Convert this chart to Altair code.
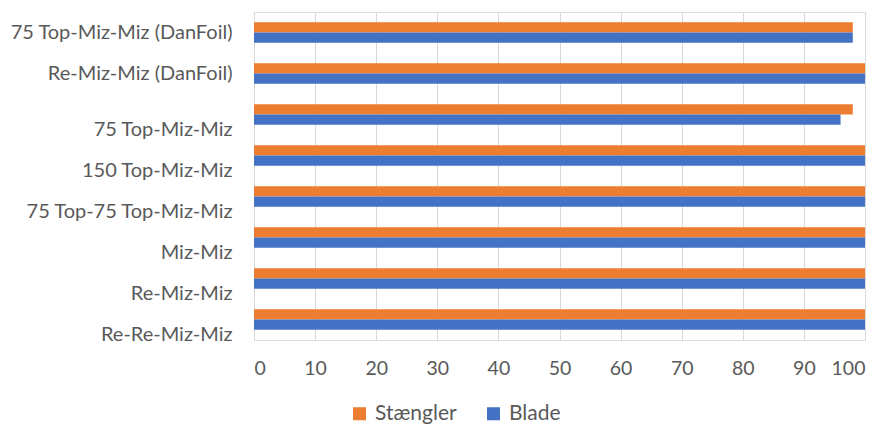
import altair as alt
import pandas as pd

categories = [
    "75 Top-Miz-Miz (DanFoil)",
    "Re-Miz-Miz (DanFoil)",
    "75 Top-Miz-Miz",
    "150 Top-Miz-Miz",
    "75 Top-75 Top-Miz-Miz",
    "Miz-Miz",
    "Re-Miz-Miz",
    "Re-Re-Miz-Miz",
]
staengler = [98, 100, 98, 100, 100, 100, 100, 100]
blade = [98, 100, 96, 100, 100, 100, 100, 100]
series = ["Stængler", "Blade"]
colors = ["#ED7D31", "#4472C4"]
x_ticks = list(range(0, 101, 10))

rows = []
for c, s, b in zip(categories, staengler, blade):
    rows.append({"cat": c, "series": "Stængler", "value": s})
    rows.append({"cat": c, "series": "Blade", "value": b})
df = pd.DataFrame(rows)

shifted = categories[2:]
test = " || ".join([f"datum.value == '{c}'" for c in shifted])

FONT = "Lato"
GRAY = "#595959"

chart = alt.Chart(df).mark_bar(opacity=1).encode(
    y=alt.Y(
        "cat:N",
        sort=categories,
        scale=alt.Scale(paddingInner=0.5, paddingOuter=0.25),
        axis=alt.Axis(
            title=None, ticks=False, domain=False, grid=False,
            labelFont=FONT, labelFontSize=20, labelColor=GRAY,
            labelPadding=22, labelLimit=400,
            labelOffset={"condition": {"test": test, "value": 15}, "value": 0},
        ),
    ),
    yOffset=alt.YOffset("series:N", sort=series),
    x=alt.X(
        "value:Q",
        scale=alt.Scale(domain=[0, 100], nice=False),
        axis=alt.Axis(
            title=None, values=x_ticks, ticks=False, domain=False,
            grid=True, gridColor="#d9d9d9", gridWidth=1,
            labelFont=FONT, labelFontSize=19.5, labelColor=GRAY,
            labelPadding=19,
        ),
    ),
    color=alt.Color(
        "series:N",
        sort=series,
        scale=alt.Scale(domain=series, range=colors),
        legend=alt.Legend(
            title=None, orient="none", legendX=95, legendY=391,
            direction="horizontal", symbolType="square", symbolSize=170,
            symbolStrokeWidth=0, labelFont=FONT, labelFontSize=21,
            labelColor=GRAY, columnPadding=26, labelOffset=5,
        ),
    ),
).properties(
    width=611,
    height=328,
    autosize=alt.AutoSizeParams(type="none"),
    padding={"left": 254, "top": 12, "right": 17, "bottom": 85},
).configure_view(stroke=None).configure(background="white")

chart.save("out.html", embed_options={"renderer": "svg", "actions": False})
